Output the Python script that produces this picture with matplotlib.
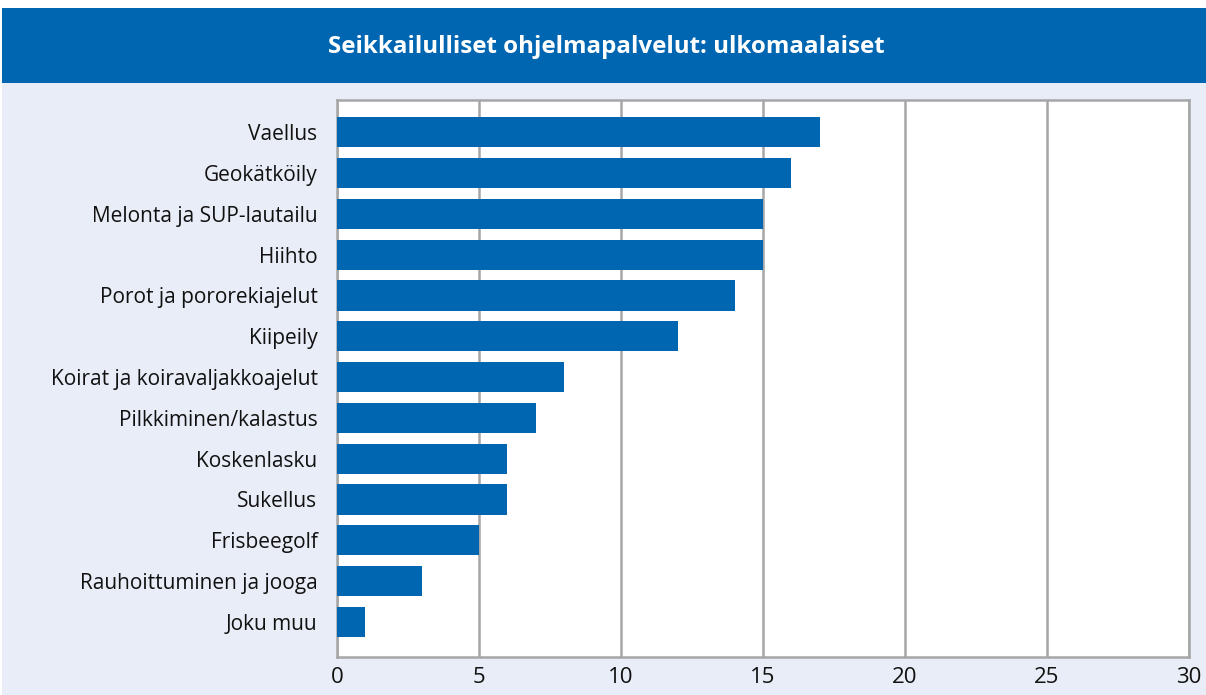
import matplotlib.pyplot as plt
from matplotlib.patches import Rectangle

# Data
categories = ['Vaellus', 'Geokätköily', 'Melonta ja SUP-lautailu', 'Hiihto',
              'Porot ja pororekiajelut', 'Kiipeily', 'Koirat ja koiravaljakkoajelut',
              'Pilkkiminen/kalastus', 'Koskenlasku', 'Sukellus', 'Frisbeegolf',
              'Rauhoittuminen ja jooga', 'Joku muu']
values = [17, 16, 15, 15, 14, 12, 8, 7, 6, 6, 5, 3, 1]
x_ticks = [0, 5, 10, 15, 20, 25, 30]
title = 'Seikkailulliset ohjelmapalvelut: ulkomaalaiset'

blue = '#0066b2'
bg = '#e9edf7'
grey = '#a6a6a6'

plt.rcParams['font.family'] = ['Open Sans', 'DejaVu Sans']

W, H = 1206, 695
fig = plt.figure(figsize=(W / 100, H / 100), dpi=100)
fig.patch.set_facecolor('white')

# background panel and title banner
fig.patches.append(Rectangle((2 / W, 0), 1, 612 / H, transform=fig.transFigure,
                             facecolor=bg, edgecolor='none', zorder=-2))
fig.patches.append(Rectangle((2 / W, 612 / H), 1, 75 / H, transform=fig.transFigure,
                             facecolor=blue, edgecolor='none', zorder=-2))
fig.text(606 / W, 1 - 47 / H, title, color='white', fontsize=17.4,
         fontweight='bold', ha='center', va='center')

ax = fig.add_axes([337 / W, 1 - 657 / H, (1189 - 337) / W, (657 - 100) / H])
ax.set_facecolor('white')

pos = list(range(len(categories)))
ax.barh(pos, values, height=0.74, color=blue, zorder=3)

ax.set_xlim(0, 30)
ax.set_ylim(12.86, -0.79)
ax.set_xticks(x_ticks)
ax.set_yticks(pos)
ax.set_yticklabels(categories)
ax.tick_params(axis='both', length=0, colors='#111111')
ax.tick_params(axis='y', pad=14, labelsize=15)
ax.tick_params(axis='x', pad=7, labelsize=16)
ax.grid(axis='x', color=grey, linewidth=1.8, zorder=0)
for s in ax.spines.values():
    s.set_color(grey)
    s.set_linewidth(1.8)

fig.savefig('out.png', dpi=100, facecolor=fig.get_facecolor())
